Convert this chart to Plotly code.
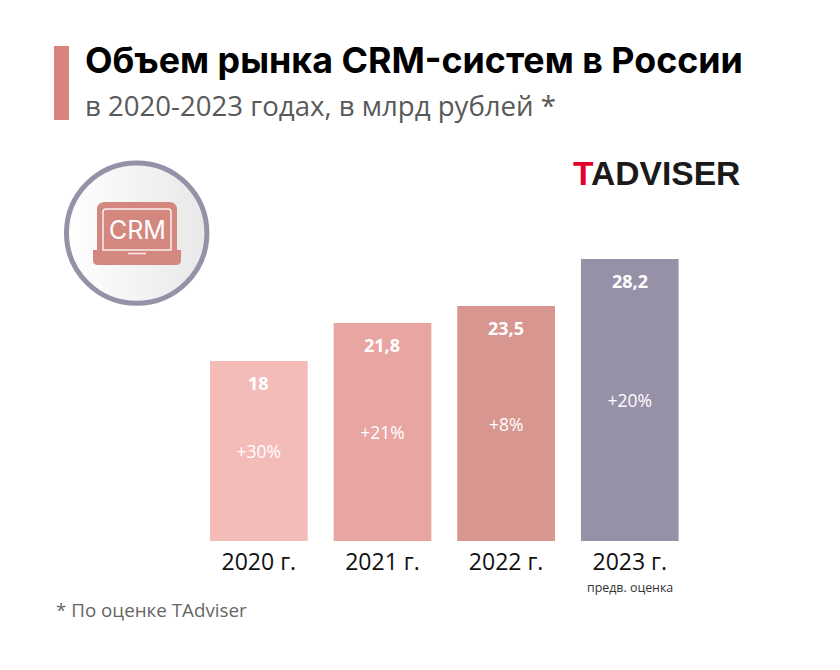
import base64

import plotly.graph_objects as go

W, H = 840, 670

# data
years = ["2020 г.", "2021 г.", "2022 г.", "2023 г."]
market = [18, 21.8, 23.5, 28.2]
market_labels = ["18", "21,8", "23,5", "28,2"]
growth = ["+30%", "+21%", "+8%", "+20%"]
bar_colors = ["#F4BCB9", "#E8A5A2", "#D7968F", "#9791A8"]


# pixel position on the page -> paper coords
def px(x):
    return x / W


def py(y):
    return 1 - y / H


def round_top(x0, y0, x1, y1, r):
    return (f"M {px(x0)} {py(y1)} L {px(x0)} {py(y0 + r)} Q {px(x0)} {py(y0)} {px(x0 + r)} {py(y0)} "
            f"L {px(x1 - r)} {py(y0)} Q {px(x1)} {py(y0)} {px(x1)} {py(y0 + r)} L {px(x1)} {py(y1)} Z")


def round_bottom(x0, y0, x1, y1, r):
    return (f"M {px(x0)} {py(y0)} L {px(x1)} {py(y0)} L {px(x1)} {py(y1 - r)} Q {px(x1)} {py(y1)} {px(x1 - r)} {py(y1)} "
            f"L {px(x0 + r)} {py(y1)} Q {px(x0)} {py(y1)} {px(x0)} {py(y1 - r)} Z")


fig = go.Figure()

fig.add_trace(go.Bar(
    x=years,
    y=market,
    marker=dict(color=bar_colors, line=dict(width=0)),
    text=growth,
    textposition="inside",
    insidetextanchor="middle",
    textangle=0,
    textfont=dict(family="Open Sans", size=17.5, color="white"),
    width=0.79,
    hoverinfo="skip",
))

annotations = []

# value labels at top of each bar
for year, value, label in zip(years, market, market_labels):
    annotations.append(dict(
        x=year, y=value, xref="x", yref="y", yshift=-22, text=f"<b>{label}</b>", showarrow=False,
        font=dict(family="Open Sans", size=18, color="white"),
    ))


def page_text(x, y, text, family, size, color, anchor="left", **font_opts):
    annotations.append(dict(
        x=px(x), y=py(y), xref="paper", yref="paper", text=text, showarrow=False,
        xanchor=anchor, yanchor="middle", font=dict(family=family, size=size, color=color, **font_opts),
    ))


page_text(82.5, 60, "<b>Объем рынка CRM-систем в России</b>", "Inter", 35.8, "#000000")
page_text(82.5, 105, "в 2020-2023 годах, в млрд рублей *", "Open Sans", 27.6, "#595959")
page_text(54, 610, "* По оценке TAdviser", "Open Sans", 18.8, "#666666")
page_text(629.5, 587, "предв. оценка", "Open Sans", 12.4, "#333333", anchor="center")
page_text(571, 173, '<span style="color:#E4002B">T</span>ADVISER', "Liberation Sans", 33.6, "#1A1A1A", weight=700)
page_text(137, 230, "CRM", "Inter", 25, "#FFFFFF", anchor="center", weight=400)

icon = "#D3877F"
shapes = [
    # title accent
    dict(type="rect", xref="paper", yref="paper", x0=px(54), x1=px(69), y0=py(120), y1=py(46),
         fillcolor="#D8837C", line_width=0),
    # ring around the icon
    dict(type="circle", xref="paper", yref="paper", x0=px(66.5), x1=px(206.9), y0=py(303.3), y1=py(162.9),
         fillcolor="rgba(0,0,0,0)", line=dict(color="#9791A8", width=5)),
    # laptop
    dict(type="path", xref="paper", yref="paper", path=round_top(97, 202, 177, 250, 8), fillcolor=icon, line_width=0),
    dict(type="path", xref="paper", yref="paper", path=round_bottom(93, 250, 181, 265, 5), fillcolor=icon, line_width=0),
    dict(type="path", xref="paper", yref="paper", path=round_top(103, 209, 171, 250, 3),
         fillcolor="rgba(0,0,0,0)", line=dict(color="#FBEFEE", width=1.5)),
    dict(type="line", xref="paper", yref="paper", x0=px(128), x1=px(146), y0=py(253.5), y1=py(253.5),
         line=dict(color="#FBEFEE", width=1.5)),
]

# the gradient disc behind the icon
disc = ('<svg xmlns="http://www.w3.org/2000/svg" width="140" height="140">'
        '<defs><linearGradient id="g"><stop offset="0" stop-color="#FFFFFF"/>'
        '<stop offset="1" stop-color="#E8E8E8"/></linearGradient></defs>'
        '<circle cx="70" cy="70" r="70" fill="url(#g)"/></svg>')
disc_uri = "data:image/svg+xml;base64," + base64.b64encode(disc.encode()).decode()

fig.update_layout(
    width=W,
    height=H,
    margin=dict(l=0, r=0, t=0, b=0),
    paper_bgcolor="white",
    plot_bgcolor="white",
    showlegend=False,
    annotations=annotations,
    shapes=shapes,
    images=[dict(source=disc_uri, xref="paper", yref="paper", x=px(66.7), y=py(163),
                 sizex=140 / W, sizey=140 / H, xanchor="left", yanchor="top", sizing="stretch", layer="below")],
)

fig.update_xaxes(
    domain=[197 / W, 691.6 / W],
    tickfont=dict(family="Open Sans", size=23, color="#111111"),
    ticks="",
    ticklabelstandoff=5,
    showline=False,
    showgrid=False,
    zeroline=False,
)
fig.update_yaxes(
    domain=[129 / H, 429 / H],
    range=[0, 30],
    visible=False,
)

fig.write_html("out.html", config=dict(displayModeBar=False), post_script="document.body.style.margin='0';")
